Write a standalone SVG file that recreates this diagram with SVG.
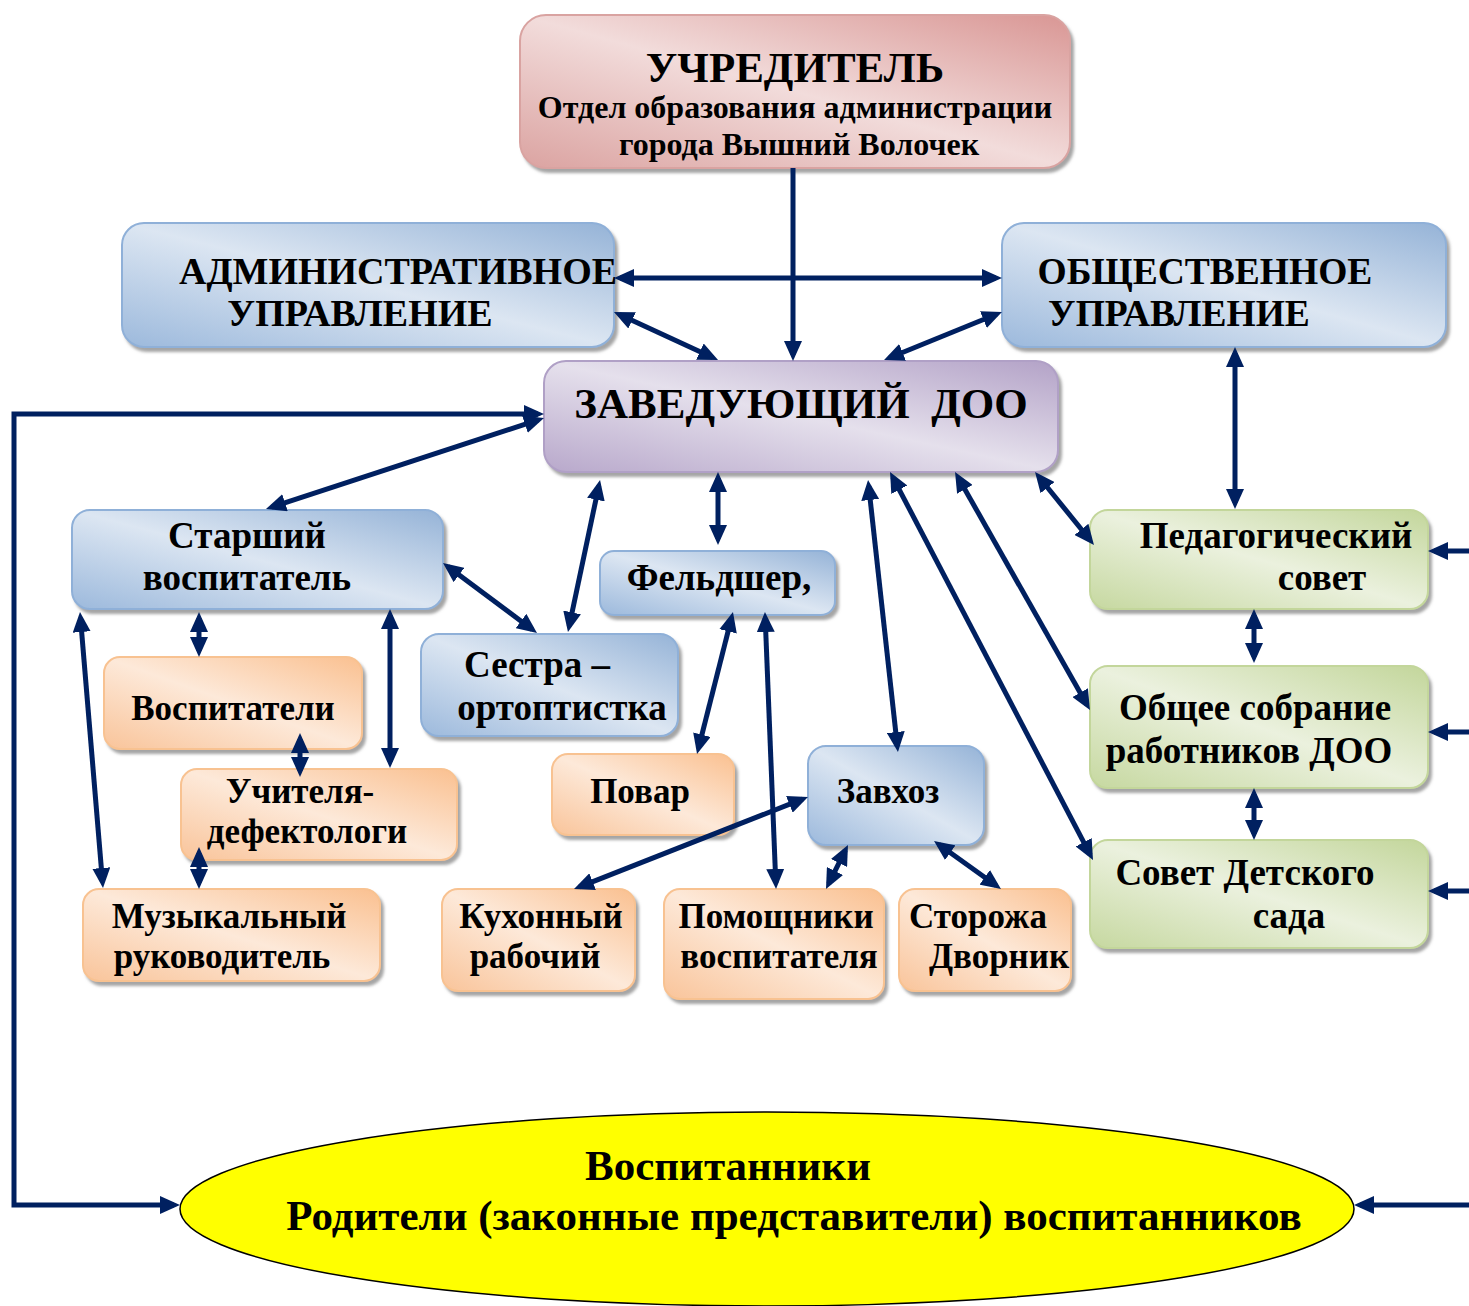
<svg xmlns="http://www.w3.org/2000/svg" width="1469" height="1306" viewBox="0 0 1469 1306">
<defs>
<linearGradient id="gBlue" x1="1" y1="0" x2="0" y2="1"><stop offset="0" stop-color="#95b3d7"/><stop offset="0.5" stop-color="#dce6f2"/><stop offset="1" stop-color="#9cb9dc"/></linearGradient>
<linearGradient id="gPink" x1="1" y1="0" x2="0" y2="1"><stop offset="0" stop-color="#d99694"/><stop offset="0.5" stop-color="#f2dcdb"/><stop offset="1" stop-color="#dba3a1"/></linearGradient>
<linearGradient id="gPurple" x1="1" y1="0" x2="0" y2="1"><stop offset="0" stop-color="#b3a2c7"/><stop offset="0.5" stop-color="#e5e0ec"/><stop offset="1" stop-color="#b8a8cb"/></linearGradient>
<linearGradient id="gGreen" x1="1" y1="0" x2="0" y2="1"><stop offset="0" stop-color="#c3d69b"/><stop offset="0.5" stop-color="#ebf1de"/><stop offset="1" stop-color="#c6d8a0"/></linearGradient>
<linearGradient id="gOrange" x1="1" y1="0" x2="0" y2="1"><stop offset="0" stop-color="#fac090"/><stop offset="0.5" stop-color="#fde9d9"/><stop offset="1" stop-color="#f9c49a"/></linearGradient>
<filter id="sh" x="-10%" y="-10%" width="130%" height="140%"><feDropShadow dx="3" dy="4" stdDeviation="1.5" flood-color="#7f7f7f" flood-opacity="0.7"/></filter>
<marker id="ah" viewBox="0 0 20 18" markerWidth="20" markerHeight="18" refX="14" refY="9" orient="auto-start-reverse" markerUnits="userSpaceOnUse"><path d="M0,0 L20,9 L0,18 z" fill="#002060"/></marker>
</defs>
<style>
.t{font-family:"Liberation Serif","Times New Roman",serif;font-weight:bold;fill:#000;text-anchor:middle}
.blue{fill:url(#gBlue);stroke:#8fb0d8;stroke-width:2;filter:url(#sh)}
.pink{fill:url(#gPink);stroke:#d9a3a1;stroke-width:2;filter:url(#sh)}
.purple{fill:url(#gPurple);stroke:#b0a0c6;stroke-width:2;filter:url(#sh)}
.green{fill:url(#gGreen);stroke:#c3d69b;stroke-width:2;filter:url(#sh)}
.orange{fill:url(#gOrange);stroke:#f8c291;stroke-width:2;filter:url(#sh)}
.c line,.c path{stroke:#002060;stroke-width:5;fill:none}
.b{marker-start:url(#ah);marker-end:url(#ah)}
.e{marker-end:url(#ah)}
</style>

<g id="n-uchreditel"><rect class="pink" x="520" y="15" width="550" height="153" rx="26"/>
<text class="t" x="795" y="82" font-size="43">УЧРЕДИТЕЛЬ</text>
<text class="t" x="795" y="118" font-size="32">Отдел образования администрации</text>
<text class="t" x="799" y="155" font-size="32">города Вышний Волочек</text></g>

<g id="n-admin"><rect class="blue" x="122" y="223" width="492" height="124" rx="22"/>
<text class="t" x="398" y="284" font-size="38">АДМИНИСТРАТИВНОЕ</text>
<text class="t" x="360" y="326" font-size="38">УПРАВЛЕНИЕ</text></g>

<g id="n-obsch"><rect class="blue" x="1002" y="223" width="444" height="124" rx="22"/>
<text class="t" x="1205" y="284" font-size="37.5">ОБЩЕСТВЕННОЕ</text>
<text class="t" x="1179" y="326" font-size="37.5">УПРАВЛЕНИЕ</text></g>

<g id="n-zav"><rect class="purple" x="544" y="361" width="514" height="111" rx="22"/>
<text class="t" x="801" y="418" font-size="43">ЗАВЕДУЮЩИЙ&#160; ДОО</text></g>

<g id="n-starsh"><rect class="blue" x="72" y="510" width="371" height="99" rx="18"/>
<text class="t" x="247" y="548" font-size="37">Старший</text>
<text class="t" x="247" y="590" font-size="37">воспитатель</text></g>

<g id="n-feld"><rect class="blue" x="600" y="551" width="235" height="64" rx="14"/>
<text class="t" x="719" y="590" font-size="37">Фельдшер,</text></g>

<g id="n-sestra"><rect class="blue" x="421" y="634" width="257" height="102" rx="18"/>
<text class="t" x="537" y="677" font-size="37">Сестра –</text>
<text class="t" x="562" y="720" font-size="37">ортоптистка</text></g>

<g id="n-pedsovet"><rect class="green" x="1090" y="510" width="338" height="99" rx="18"/>
<text class="t" x="1276" y="548" font-size="37">Педагогический</text>
<text class="t" x="1322" y="590" font-size="37">совет</text></g>

<g id="n-sobranie"><rect class="green" x="1090" y="666" width="338" height="122" rx="18"/>
<text class="t" x="1255" y="720" font-size="37">Общее собрание</text>
<text class="t" x="1249" y="763" font-size="37">работников ДОО</text></g>

<g id="n-sovet"><rect class="green" x="1090" y="840" width="338" height="108" rx="18"/>
<text class="t" x="1245" y="885" font-size="37">Совет Детского</text>
<text class="t" x="1289" y="928" font-size="37">сада</text></g>

<g id="n-vosp"><rect class="orange" x="104" y="657" width="258" height="92" rx="16"/>
<text class="t" x="233" y="720" font-size="35">Воспитатели</text></g>

<g id="n-uchitelya"><rect class="orange" x="181" y="769" width="276" height="91" rx="16"/>
<text class="t" x="300" y="803" font-size="35">Учителя-</text>
<text class="t" x="307" y="843" font-size="35">дефектологи</text></g>

<g id="n-muz"><rect class="orange" x="83" y="889" width="297" height="92" rx="16"/>
<text class="t" x="229" y="928" font-size="35">Музыкальный</text>
<text class="t" x="222" y="968" font-size="35">руководитель</text></g>

<g id="n-povar"><rect class="orange" x="552" y="754" width="182" height="81" rx="16"/>
<text class="t" x="640" y="803" font-size="35">Повар</text></g>

<g id="n-zavhoz"><rect class="blue" x="808" y="746" width="176" height="99" rx="18"/>
<text class="t" x="888" y="803" font-size="35">Завхоз</text></g>

<g id="n-kuhon"><rect class="orange" x="442" y="889" width="193" height="102" rx="16"/>
<text class="t" x="541" y="928" font-size="35">Кухонный</text>
<text class="t" x="535" y="968" font-size="35">рабочий</text></g>

<g id="n-pomosch"><rect class="orange" x="664" y="889" width="220" height="110" rx="16"/>
<text class="t" x="776" y="928" font-size="35">Помощники</text>
<text class="t" x="779" y="968" font-size="35">воспитателя</text></g>

<g id="n-storozha"><rect class="orange" x="899" y="889" width="172" height="102" rx="16"/>
<text class="t" x="978" y="928" font-size="35">Сторожа</text>
<text class="t" x="999" y="968" font-size="35">Дворник</text></g>

<g id="n-vospitanniki"><ellipse cx="767" cy="1209" rx="587" ry="97" fill="#ffff00" stroke="#000" stroke-width="1.5"/>
<text class="t" x="728" y="1180" font-size="43">Воспитанники</text>
<text class="t" x="794" y="1230" font-size="43">Родители (законные представители) воспитанников</text></g>

<g id="connectors" class="c">
<line class="e" x1="793" y1="168" x2="793" y2="355"/>
<line class="b" x1="620" y1="278" x2="996" y2="278"/>
<line class="b" x1="619.4" y1="314.5" x2="712.6" y2="357.5"/>
<line class="b" x1="996.4" y1="314.3" x2="889.6" y2="357.7"/>
<path class="b" d="M538,414 L14,414 L14,1205 L174,1205"/>
<line class="b" x1="538.3" y1="419.9" x2="271.7" y2="507.1"/>
<line class="e" x1="1469" y1="551" x2="1434" y2="551"/>
<line class="e" x1="1469" y1="732" x2="1434" y2="732"/>
<line class="e" x1="1469" y1="891" x2="1434" y2="891"/>
<line class="e" x1="1469" y1="1205" x2="1360" y2="1205"/>
<line class="b" x1="1235" y1="353" x2="1235" y2="503"/>
<line class="b" x1="1254" y1="615" x2="1254" y2="657"/>
<line class="b" x1="1254" y1="794" x2="1254" y2="834"/>
<line class="b" x1="1038.8" y1="476.7" x2="1090.2" y2="540.3"/>
<line class="b" x1="958" y1="477.2" x2="1087" y2="704.8"/>
<line class="b" x1="892.8" y1="477.3" x2="1090.2" y2="854.7"/>
<line class="b" x1="868.7" y1="486" x2="897.3" y2="746"/>
<line class="b" x1="718" y1="478" x2="718" y2="539"/>
<line class="b" x1="598.8" y1="485.9" x2="569.2" y2="626.1"/>
<line class="b" x1="447.8" y1="566.6" x2="532.2" y2="629.4"/>
<line class="b" x1="199" y1="618" x2="199" y2="651"/>
<line class="b" x1="390" y1="615" x2="390" y2="762"/>
<line class="b" x1="80.5" y1="618" x2="102.5" y2="882"/>
<line class="b" x1="300" y1="739" x2="300" y2="771"/>
<line class="b" x1="199" y1="853" x2="199" y2="883"/>
<line class="b" x1="731.5" y1="617.8" x2="698.5" y2="748.2"/>
<line class="b" x1="765.2" y1="618" x2="775.8" y2="883"/>
<line class="b" x1="802.4" y1="799.2" x2="579.6" y2="886.8"/>
<line class="b" x1="845.3" y1="850.4" x2="828.7" y2="883.6"/>
<line class="b" x1="938.9" y1="844.5" x2="996.1" y2="885.5"/>
</g>
</svg>
